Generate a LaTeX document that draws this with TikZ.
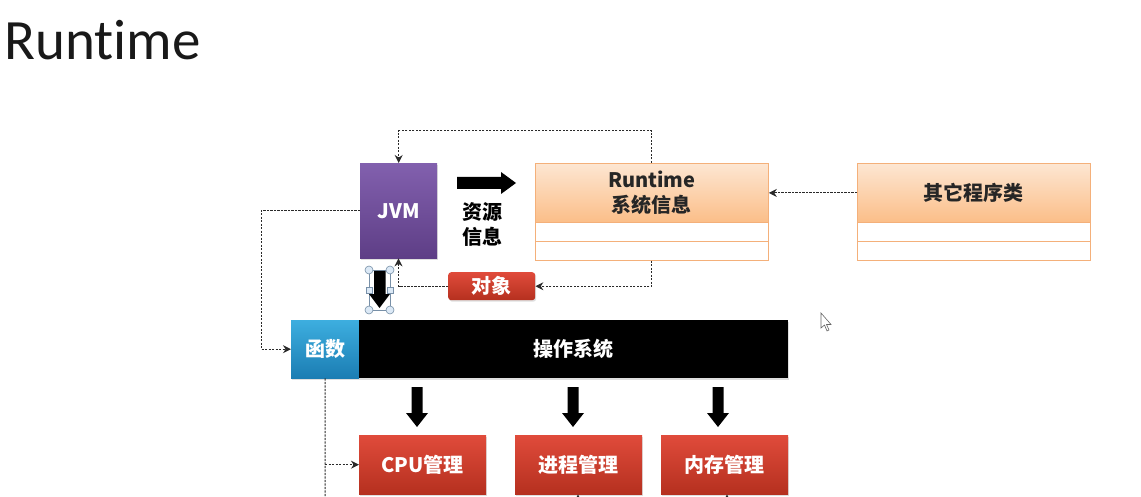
\documentclass[tikz,border=0pt]{standalone}
\usepackage{fontspec}
\setmainfont{Noto Sans CJK SC}
\newfontfamily\titlefont{Carlito}[Ligatures=NoCommon]
\usetikzlibrary{arrows.meta,shadows}
\definecolor{jvmtop}{HTML}{8260AE}
\definecolor{jvmbot}{HTML}{5E3E86}
\definecolor{ortop}{HTML}{FDE6D2}
\definecolor{orbot}{HTML}{FBBE88}
\definecolor{orline}{HTML}{F4B07A}
\definecolor{redtop}{HTML}{E04B3B}
\definecolor{redbot}{HTML}{B5301F}
\definecolor{bluetop}{HTML}{3DAEDF}
\definecolor{bluebot}{HTML}{1B7DB3}
\definecolor{dashc}{HTML}{2A2A2A}
\definecolor{handlefill}{HTML}{DCE9F6}
\definecolor{handleline}{HTML}{7890A8}
\tikzset{
  shad/.style={drop shadow={opacity=0.25,shadow xshift=1pt,shadow yshift=-1.5pt}},
  boxtext/.style={font=\bfseries\fontsize{20}{25}\selectfont, align=center, inner sep=0pt},
  jvmbox/.style={boxtext, text=white, shading=axis, top color=jvmtop, bottom color=jvmbot,
    minimum width=77pt, minimum height=95pt, anchor=north west, shad},
  classtop/.style={boxtext, text=black!85, draw=orline, line width=0.8pt, shading=axis,
    top color=ortop, bottom color=orbot, minimum width=233pt, minimum height=59pt, anchor=north west},
  classrow/.style={draw=orline, line width=0.8pt, fill=white, minimum width=233pt,
    minimum height=19pt, anchor=north west, inner sep=0pt},
  redbox/.style={boxtext, text=white, shading=axis, top color=redtop, bottom color=redbot,
    minimum width=127pt, minimum height=59pt, anchor=north west, shad},
  dline/.style={draw=dashc, line width=1pt, dash pattern=on 2.2pt off 1.3pt},
  dtip/.style={dline, -{Stealth[length=8pt,width=8pt]}},
  blockarrow/.style={fill=black},
  handle/.style={fill=handlefill, draw=handleline, line width=0.6pt},
}
\begin{document}
\begin{tikzpicture}[x=1pt,y=-1pt]
\useasboundingbox[fill=white] (0,0) rectangle (1141,497);

% title
\node[anchor=base west, inner sep=0pt, font=\titlefont\fontsize{57}{62}\selectfont, text=black!90] (title) at (4,60) {Runtime};

% JVM
\node[jvmbox] (jvm) at (360,163) {JVM};

% resource info arrow and label
\fill[blockarrow] (457,177) -- (501,177) -- (501,172) -- (516,183) -- (501,194) -- (501,189) -- (457,189) -- cycle;
\node[boxtext, text=black] (res) at (482,224) {资源\\信息};

% Runtime class box
\node[classtop, shad] (rt) at (535,163) {Runtime\\系统信息};
\node[classrow] (rt1) at (535,222) {};
\node[classrow] (rt2) at (535,241) {};

% other classes box
\node[classtop, shad] (other) at (857,163) {其它程序类};
\node[classrow] (ot1) at (857,222) {};
\node[classrow] (ot2) at (857,241) {};

% object
\node[boxtext, text=white, shading=axis, top color=redtop, bottom color=redbot,
  rounded corners=3pt, minimum width=87pt, minimum height=28pt, anchor=north west, shad] (obj) at (448,272) {对象};

% function + OS
\node[boxtext, text=white, shading=axis, top color=bluetop, bottom color=bluebot,
  minimum width=68pt, minimum height=58pt, anchor=north west, shad] (fn) at (291,320) {函数};
\node[boxtext, text=white, fill=black, minimum width=429pt, minimum height=58pt,
  anchor=north west, shad] (os) at (359,320) {操作系统};

% management boxes
\node[redbox] (cpu) at (359,435) {CPU管理};
\node[redbox] (proc) at (515,435) {进程管理};
\node[redbox] (mem) at (661,435) {内存管理};

% down block arrows
\foreach \cx in {417,573,718}{
  \fill[blockarrow] (\cx-5.5,387) -- (\cx+5.5,387) -- (\cx+5.5,413) -- (\cx+11,413) -- (\cx,427) -- (\cx-11,413) -- (\cx-5.5,413) -- cycle;
}

% small selected down arrow below JVM
\draw[handleline, line width=0.5pt] (369,270) rectangle (390,310);
\fill[blockarrow] (374,271) -- (385.5,271) -- (385.5,294) -- (390,294) -- (379.5,308) -- (369,294) -- (374,294) -- cycle;
\foreach \hx/\hy in {369/270,390/270,369/310,390/310}{
  \draw[handle] (\hx,\hy) circle (4pt);
}
\foreach \hx/\hy in {369/290,390/290}{
  \draw[handle] (\hx-3,\hy-3) rectangle (\hx+3,\hy+3);
}

% dashed connectors
\draw[dtip] (other.west) -- (rt.east);
\draw[dtip] (rt.north) -- ++(0,-32) -| (jvm.north);
\coordinate (rtb) at (rt2.south);
\draw[dtip] (rtb) -- (rtb |- obj.east) -- (obj.east);
\draw[dtip] (obj.west) -| ([xshift=38.5pt]jvm.south west);
\draw[dtip] (jvm.west) -- ++(-99,0) |- (fn.west);
\coordinate (b1) at (325,497);
\draw[dline] (fn.south) -- (b1);
\draw[dtip] (fn.south |- cpu.west) -- (cpu.west);
\coordinate (b2) at (578,502);
\coordinate (b3) at (727,502);
\draw[dtip] (b2) -- (b2 |- proc.south);
\draw[dtip] (b3) -- (b3 |- mem.south);

% mouse cursor
\draw[gray!80!black, fill=white, line width=0.6pt] (821,313) -- (821,328) -- (824.5,325) -- (827,331) -- (829,330) -- (826.5,324.5) -- (831,324.5) -- cycle;
\end{tikzpicture}
\end{document}
